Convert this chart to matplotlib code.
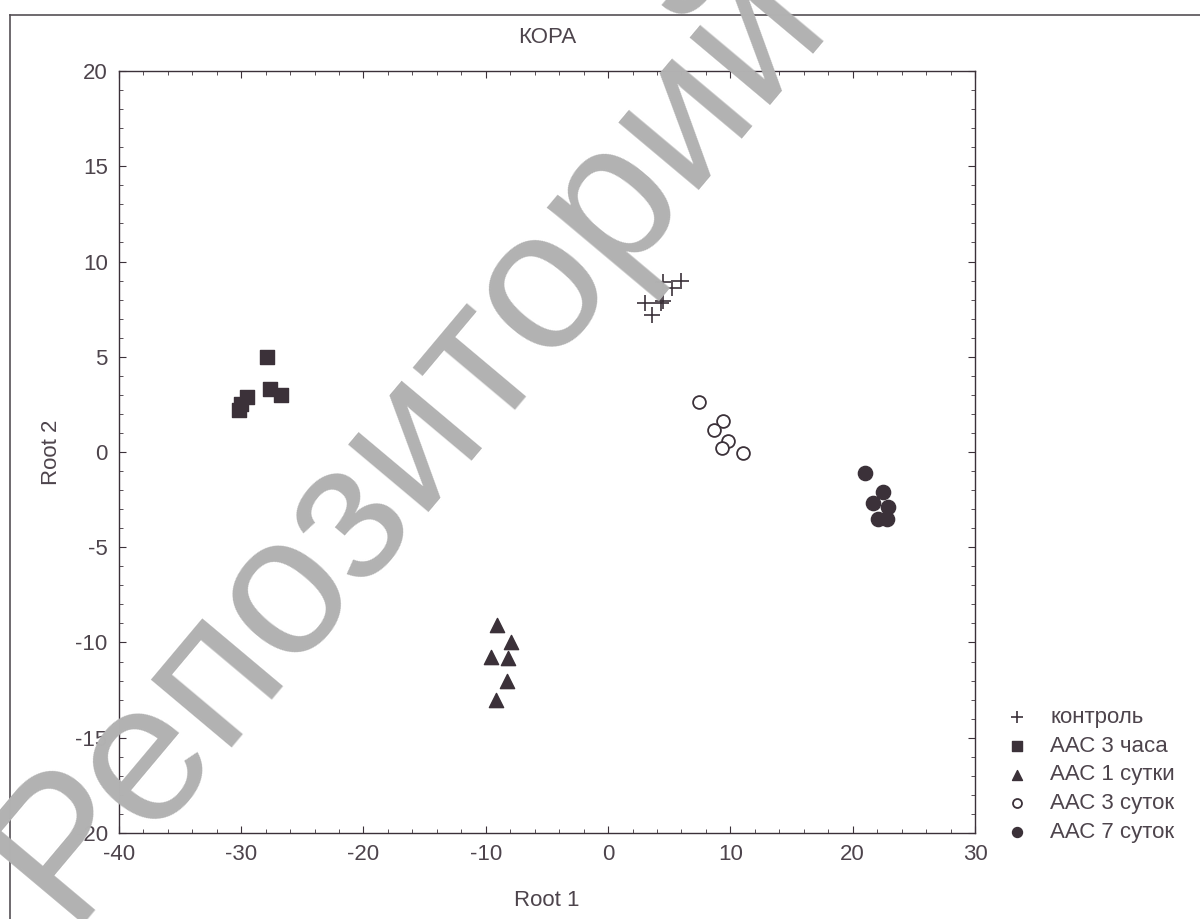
import matplotlib.pyplot as plt
from matplotlib.ticker import MultipleLocator
from matplotlib.lines import Line2D

plt.rcParams['font.family'] = ['Liberation Sans', 'DejaVu Sans']
plt.rcParams['axes.unicode_minus'] = False

# discriminant scores
kontrol_x = [4.5, 5.2, 6.0, 3.0, 4.3, 4.5, 3.6]
kontrol_y = [8.9, 8.6, 9.0, 7.8, 7.8, 7.95, 7.2]

h3_x = [-30.2, -30.0, -29.5, -27.9, -27.6, -26.7]
h3_y = [2.2, 2.5, 2.9, 5.0, 3.3, 3.0]

d1_x = [-9.05, -7.96, -9.59, -8.15, -8.28, -9.16]
d1_y = [-9.1, -10.0, -10.75, -10.8, -12.0, -13.0]

d3_x = [7.4, 9.4, 8.7, 9.8, 9.3, 11.0]
d3_y = [2.6, 1.65, 1.15, 0.6, 0.2, -0.05]

d7_x = [21.0, 22.5, 21.7, 22.9, 22.1, 22.8]
d7_y = [-1.1, -2.1, -2.7, -2.9, -3.5, -3.5]

labels = ['контроль', 'ААС 3 часа', 'ААС 1 сутки', 'ААС 3 суток', 'ААС 7 суток']

ink = '#3b3139'
txt = '#4d444c'

fig = plt.figure(figsize=(12, 9.19), dpi=100)
ax = fig.add_axes([0.099, 0.0936, 0.7135, 0.8291])

ax.scatter(kontrol_x, kontrol_y, marker='+', s=130, color=ink, linewidths=1.2, label=labels[0], zorder=3)
ax.scatter(h3_x, h3_y, marker='s', s=95, color=ink, label=labels[1], zorder=3)
ax.scatter(d1_x, d1_y, marker='^', s=105, color=ink, label=labels[2], zorder=3)
ax.scatter(d3_x, d3_y, marker='o', s=85, facecolors='white', edgecolors=ink, linewidths=1.3, label=labels[3], zorder=3)
ax.scatter(d7_x, d7_y, marker='o', s=105, color=ink, label=labels[4], zorder=3)

ax.set_xlim(-40, 30)
ax.set_ylim(-20, 20)
ax.xaxis.set_major_locator(MultipleLocator(10))
ax.xaxis.set_minor_locator(MultipleLocator(2))
ax.yaxis.set_major_locator(MultipleLocator(5))
ax.yaxis.set_minor_locator(MultipleLocator(1))
ax.tick_params(which='both', direction='in', top=True, right=True, color=ink,
               labelsize=16, labelcolor=txt)
ax.tick_params(which='major', length=5, pad=8)
ax.tick_params(which='minor', length=3)
for sp in ax.spines.values():
    sp.set_color(ink)
    sp.set_linewidth(1.0)

ax.set_xlabel('Root 1', fontsize=16, color=txt, labelpad=18)
ax.set_ylabel('Root 2', fontsize=16, color=txt, labelpad=10)
ax.set_title('КОРА', fontsize=16, color=txt, pad=20)

leg = fig.legend(loc='upper left', bbox_to_anchor=(0.829, 0.243), frameon=False,
                 fontsize=16, handlelength=1.0, handletextpad=1.0, labelspacing=0.35,
                 borderpad=0, markerscale=0.7)
for t in leg.get_texts():
    t.set_color(txt)

# edges of the scanned page
fig.add_artist(Line2D([0.008, 1.0], [0.984, 0.984], transform=fig.transFigure,
                      color='#555055', linewidth=1.2))
fig.add_artist(Line2D([0.008, 0.008], [0.0, 0.984], transform=fig.transFigure,
                      color='#555055', linewidth=1.2))

# watermark
fig.text(0.056, -0.005, 'Репозиторий', fontsize=143, color='#b2b2b2', rotation=50,
         rotation_mode='anchor', ha='left', va='baseline', zorder=10)

fig.savefig('out.png', dpi=100)
